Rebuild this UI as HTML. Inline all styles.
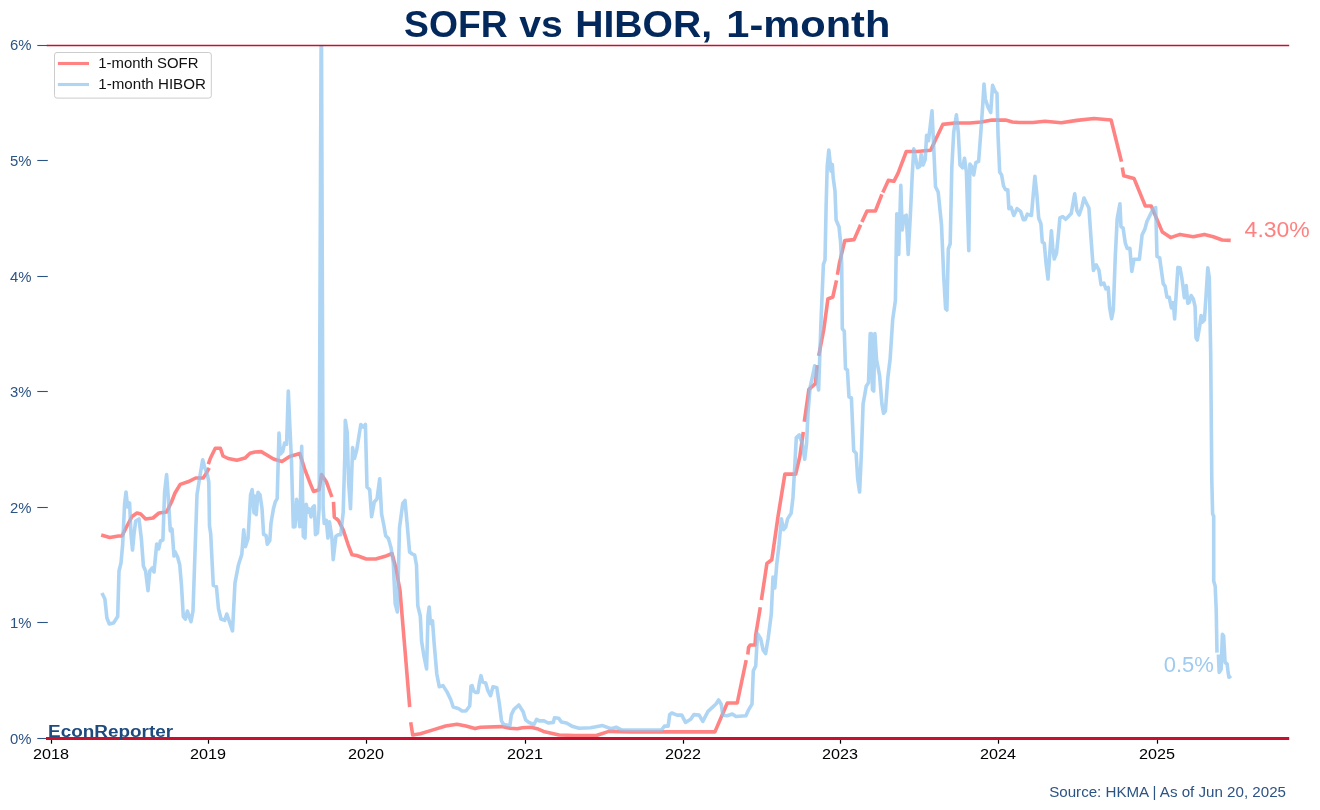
<!DOCTYPE html>
<html><head><meta charset="utf-8"><title>SOFR vs HIBOR, 1-month</title>
<style>
html,body{margin:0;padding:0;background:#fff;}
body{width:1320px;height:810px;overflow:hidden;font-family:"Liberation Sans", sans-serif;}
svg{display:block;will-change:transform;}
</style></head>
<body>
<svg width="1320" height="810" viewBox="0 0 1320 810">
<rect x="0" y="0" width="1320" height="810" fill="#fff"/>
<defs><clipPath id="ax"><rect x="46" y="45.8" width="1243.2" height="700"/></clipPath></defs>
<text x="404.1" y="36.9" font-family='"Liberation Sans", sans-serif' font-weight="bold" font-size="36.6" fill="#03295c" textLength="103.6" lengthAdjust="spacingAndGlyphs">SOFR</text>
<text x="519.3" y="36.9" font-family='"Liberation Sans", sans-serif' font-weight="bold" font-size="36.6" fill="#03295c" textLength="43.5" lengthAdjust="spacingAndGlyphs">vs</text>
<text x="575.2" y="36.9" font-family='"Liberation Sans", sans-serif' font-weight="bold" font-size="36.6" fill="#03295c" textLength="136.9" lengthAdjust="spacingAndGlyphs">HIBOR,</text>
<text x="726.3" y="36.9" font-family='"Liberation Sans", sans-serif' font-weight="bold" font-size="36.6" fill="#03295c" textLength="164.0" lengthAdjust="spacingAndGlyphs">1-month</text>
<line x1="37.3" y1="738.50" x2="47.8" y2="738.50" stroke="#2b5384" stroke-width="1.1"/>
<text x="31.6" y="743.90" text-anchor="end" font-family='"Liberation Sans", sans-serif' font-size="14" fill="#2b5384" textLength="21.5" lengthAdjust="spacingAndGlyphs">0%</text>
<line x1="37.3" y1="622.50" x2="47.8" y2="622.50" stroke="#2b5384" stroke-width="1.1"/>
<text x="31.6" y="628.30" text-anchor="end" font-family='"Liberation Sans", sans-serif' font-size="14" fill="#2b5384" textLength="21.5" lengthAdjust="spacingAndGlyphs">1%</text>
<line x1="37.3" y1="507.50" x2="47.8" y2="507.50" stroke="#2b5384" stroke-width="1.1"/>
<text x="31.6" y="512.70" text-anchor="end" font-family='"Liberation Sans", sans-serif' font-size="14" fill="#2b5384" textLength="21.5" lengthAdjust="spacingAndGlyphs">2%</text>
<line x1="37.3" y1="391.50" x2="47.8" y2="391.50" stroke="#2b5384" stroke-width="1.1"/>
<text x="31.6" y="397.10" text-anchor="end" font-family='"Liberation Sans", sans-serif' font-size="14" fill="#2b5384" textLength="21.5" lengthAdjust="spacingAndGlyphs">3%</text>
<line x1="37.3" y1="276.50" x2="47.8" y2="276.50" stroke="#2b5384" stroke-width="1.1"/>
<text x="31.6" y="281.50" text-anchor="end" font-family='"Liberation Sans", sans-serif' font-size="14" fill="#2b5384" textLength="21.5" lengthAdjust="spacingAndGlyphs">4%</text>
<line x1="37.3" y1="160.50" x2="47.8" y2="160.50" stroke="#2b5384" stroke-width="1.1"/>
<text x="31.6" y="165.90" text-anchor="end" font-family='"Liberation Sans", sans-serif' font-size="14" fill="#2b5384" textLength="21.5" lengthAdjust="spacingAndGlyphs">5%</text>
<line x1="37.3" y1="45.50" x2="47.8" y2="45.50" stroke="#2b5384" stroke-width="1.1"/>
<text x="31.6" y="50.30" text-anchor="end" font-family='"Liberation Sans", sans-serif' font-size="14" fill="#2b5384" textLength="21.5" lengthAdjust="spacingAndGlyphs">6%</text>
<line x1="51.50" y1="738.4" x2="51.50" y2="743.7" stroke="#000" stroke-width="1.2"/>
<text x="50.90" y="758.9" text-anchor="middle" font-family='"Liberation Sans", sans-serif' font-size="14" fill="#000" textLength="36" lengthAdjust="spacingAndGlyphs">2018</text>
<line x1="208.50" y1="738.4" x2="208.50" y2="743.7" stroke="#000" stroke-width="1.2"/>
<text x="207.90" y="758.9" text-anchor="middle" font-family='"Liberation Sans", sans-serif' font-size="14" fill="#000" textLength="36" lengthAdjust="spacingAndGlyphs">2019</text>
<line x1="366.50" y1="738.4" x2="366.50" y2="743.7" stroke="#000" stroke-width="1.2"/>
<text x="365.90" y="758.9" text-anchor="middle" font-family='"Liberation Sans", sans-serif' font-size="14" fill="#000" textLength="36" lengthAdjust="spacingAndGlyphs">2020</text>
<line x1="525.50" y1="738.4" x2="525.50" y2="743.7" stroke="#000" stroke-width="1.2"/>
<text x="524.90" y="758.9" text-anchor="middle" font-family='"Liberation Sans", sans-serif' font-size="14" fill="#000" textLength="36" lengthAdjust="spacingAndGlyphs">2021</text>
<line x1="683.50" y1="738.4" x2="683.50" y2="743.7" stroke="#000" stroke-width="1.2"/>
<text x="682.90" y="758.9" text-anchor="middle" font-family='"Liberation Sans", sans-serif' font-size="14" fill="#000" textLength="36" lengthAdjust="spacingAndGlyphs">2022</text>
<line x1="840.50" y1="738.4" x2="840.50" y2="743.7" stroke="#000" stroke-width="1.2"/>
<text x="839.90" y="758.9" text-anchor="middle" font-family='"Liberation Sans", sans-serif' font-size="14" fill="#000" textLength="36" lengthAdjust="spacingAndGlyphs">2023</text>
<line x1="998.50" y1="738.4" x2="998.50" y2="743.7" stroke="#000" stroke-width="1.2"/>
<text x="997.90" y="758.9" text-anchor="middle" font-family='"Liberation Sans", sans-serif' font-size="14" fill="#000" textLength="36" lengthAdjust="spacingAndGlyphs">2024</text>
<line x1="1157.50" y1="738.4" x2="1157.50" y2="743.7" stroke="#000" stroke-width="1.2"/>
<text x="1156.90" y="758.9" text-anchor="middle" font-family='"Liberation Sans", sans-serif' font-size="14" fill="#000" textLength="36" lengthAdjust="spacingAndGlyphs">2025</text>
<path d="M101.2,535 L109.8,537.5 L118.5,536 L122,536 L127,526 L132,516.5 L137,513 L140.7,514 L145.6,519 L153,518 L159,513 L166.6,512 L171.5,502 L175,493 L180.2,484.4 L188,481.8 L195.7,478 L203.2,478 L205.7,474.1 L209.2,467.8 M208.3,464.2 L210.5,458 L215.3,448.2 L220.4,448.2 L223,456 L228.2,458.5 L236.9,460.3 L245,458.1 L250,453.3 L255,452 L261.2,451.6 L267.3,455.3 L273.5,459 L282,461.5 L289.6,456.5 L299.8,453.6 L304.6,468.9 L310.2,483.3 L313.5,491.4 L319.1,489.8 L321.5,474.5 L326.3,481.7 L331.9,497 M333.5,501.8 L334.3,517 L338.3,520.3 L343.2,529.9 L348,544.3 L352,554.8 L356.7,555.5 L366.2,559 L375.7,559 L385.2,556.3 L392,553.5 L396,568.5 L400,590.6 L405.1,651.4 L409.7,707 M410.7,722.3 L412.7,735 L420.3,733.7 L433,729.9 L445.6,726 L457,724.3 L465.9,726 L475,728.6 L480.5,727.2 L501.5,726.6 L509.9,728.2 L517.2,728.7 L522.5,727.7 L530.9,727.2 L537.2,728.7 L543.5,731.4 L559.2,735 L575,735.5 L596.3,735.5 L608.9,731.4 L632,731.9 L663.5,731.9 L714.9,731.9 L727.3,703 L737.2,703 L746.2,660.1 M747.8,654.5 L748.6,647.3 L750.2,645 L755,645 L755.8,634.5 L760.3,607.2 M761.4,600 L766.9,563.5 L771.8,559.8 L778.1,516 L784.9,474.1 L795.7,474.1 L799.8,456.5 L803.3,431.9 M804.3,421.7 L808.9,389.3 L815.4,383.7 L817.2,365.2 M818.7,355.9 L823.7,330 L827.9,299 L832.8,297 L836.5,280.4 M837.4,274.8 L839.3,263.7 L844.8,240.6 L854.1,239.6 L860.6,224.8 M861.9,222 L867,211 L875.4,211 L881.9,194.3 M882.8,192.4 L888.3,180.4 L893.9,181.3 L898.1,173.2 L906.3,151.5 L917.1,151.5 L930.6,150.2 L942.8,124.4 L955,123 L970,123 L981.3,122 L992,120.1 L1005.6,120.1 L1012.4,122 L1019.2,122.5 L1032.8,122.5 L1045,121.2 L1061.3,122.7 L1076.9,120.4 L1094,118.5 L1111.1,120 L1121.5,161.6 M1122.3,167.5 L1123.7,175.7 L1134.1,178.6 L1145.3,206 L1151.2,206 L1162.4,232.1 L1170.6,237.6 L1180,234.4 L1193.3,236.7 L1204.4,234.4 L1213.3,236.7 L1222.2,240 L1230.7,240.4" fill="none" stroke="#ff5a5a" stroke-opacity="0.75" stroke-width="3.6" stroke-linejoin="round" stroke-linecap="butt" clip-path="url(#ax)"/>
<path d="M101.9,593 L104.9,599 L106.9,618 L109.3,624 L113.5,623 L117.7,616.5 L119,571 L121,563 L122.7,544 L124.6,504 L126,492 L127.6,507 L129.6,503 L131,534 L132.5,550 L134,534 L135.7,521 L139,519 L141.4,539 L143.4,566 L145.6,571 L148,590.6 L149.8,571 L152.3,568 L154,572 L156.7,544 L158.7,549 L160.4,541 L162.9,540 L164.6,492 L166.6,474.6 L168.6,502 L170.3,531 L172,529 L174,556 L175,551.8 L177.6,557 L179.7,564.7 L181.5,585.4 L183.3,616.5 L185.4,619 L187.4,611 L189.2,616.5 L191,621.7 L193,611 L195.2,546.6 L197,494.8 L200.1,475 L202.7,459.8 L204.4,466.3 L207.5,475 L208.8,482 L209.5,526 L210.7,533.6 L213.3,585.4 L216.4,586.7 L218.5,608.7 L221,619 L224.7,620.4 L226.8,614 L229.4,621.7 L232.5,630.8 L235,582.8 L238.5,564.7 L241.8,554.4 L243.7,529.7 L245.4,546.6 L248,538.8 L250.6,494.8 L252.2,489.6 L254,512.9 L255,496 L256.2,514.6 L258,492.3 L260,494.8 L262,508.4 L263.6,534.3 L266.1,535.6 L267.3,544.2 L269.8,540.5 L271,523.2 L273.5,508.4 L275.2,502.2 L277.2,498.5 L279,433 L280.4,454 L282.7,451.6 L284.6,443 L286.6,444.2 L288.3,391 L290,429.4 L291.5,461.5 L293.3,527 L295,526.7 L296.6,499.4 L298.2,512.2 L299.8,526.7 L301.7,446.4 L303.3,536.3 L305,538 L306.2,504.2 L307.8,512.2 L309.4,509 L311,517 L312.7,507.4 L314.3,505.8 L315.5,534.7 L317.5,533 L319.1,509 L321.1,40 L321.5,40 L323.1,507.4 L324.2,523.5 L326.3,520.3 L327.9,538 L329.5,521.9 L331.9,538 L333.2,559.6 L335.9,536.3 L338.3,534.7 L340.7,534.7 L343.2,512.2 L344.8,456 L345.3,420.4 L347.2,432.6 L348.6,481.5 L350.5,508.7 L352.6,447.6 L354.5,458.4 L356.7,450.3 L360.8,424.5 L363.5,427.2 L365.4,424.5 L367,487 L369.7,489.7 L371.6,516.8 L374.3,502 L377,499 L379.7,478.8 L381.6,514 L383.8,525 L385.7,535.8 L388.4,538.6 L391.1,548 L393.3,563 L395.2,603.8 L397.4,612 L399.5,527.7 L402.8,503.3 L405,500.5 L407,522.3 L409.6,552 L412.2,554 L414.7,555.2 L416.5,565.3 L417.8,605.8 L420.3,616 L421.6,641.3 L424,656.5 L426.6,669 L428,616 L429.2,607 L430.4,623.5 L432.5,621 L434.2,643.8 L436.8,674 L439.3,686.8 L443,685.6 L447,691.9 L450.7,699.5 L453.2,707 L458.3,708.4 L462,711 L465.9,711 L469.7,706 L471,686.2 L472.1,685.7 L473.7,691 L475.8,692.5 L477.9,692.5 L479.4,683 L481,675.7 L482.6,682 L485.7,683 L487.8,690.4 L490.5,695.7 L493,686.8 L496.8,687.8 L499.4,704 L501.5,720.9 L503.6,724.5 L509.9,725.6 L511.4,714.6 L514,709.3 L518.8,705 L523,711.4 L525.6,719.8 L528.8,722.4 L534,724.5 L536.6,719.3 L539.3,720.9 L544,720.9 L548.2,723 L553.4,722.4 L554.5,717.7 L558.7,718.2 L561.3,721.9 L566.5,723 L572.8,726.6 L579.1,728.2 L590.7,727.7 L602.6,725.6 L611,728.7 L616.2,727.2 L621.5,729.8 L632,730 L661.4,730 L664.5,726.1 L668.2,726.1 L669.7,714.6 L671.8,713 L677.1,715.1 L681.8,715.1 L685.5,722.4 L690.7,719.3 L693.9,714.6 L699.1,715.1 L702.8,721.4 L708,711.4 L716,704 L718.6,700 L721.2,704.2 L722.9,715.3 L727.3,715.8 L732.3,714 L736,716.5 L745.9,715.8 L748.3,710.4 L752,704.2 L753.3,670.9 L755.7,666 L757.5,633.8 L760.7,638.8 L763.1,649.9 L765.6,653.6 L768.1,638.8 L771.3,614 L773,577 L774.8,588 L776.7,564.7 L779,545 L781.4,518.9 L783.5,529.7 L785.7,527 L787.6,518.9 L791.1,513.4 L793,497.2 L795,462 L796.3,437.6 L799.3,434.9 L802,443 L804.7,459.2 L806.6,443 L808,413.2 L810.1,387.4 L813.4,372.5 L814.7,365.7 L816.6,378 L818.6,390 L820.9,324 L823.4,264.4 L825,260 L826.1,206.7 L827.2,166.7 L828.8,150 L830.1,162.2 L831,171.1 L832.3,164.4 L833.2,177.8 L835,191 L836.1,220 L839,226.7 L840.6,242.2 L841.7,264.4 L842.3,328.8 L844.3,331.1 L845.5,368.7 L847.4,369.9 L849,396.9 L851.4,398 L853.7,450.8 L856.1,453.2 L857.7,479 L859.6,491.9 L861.5,450.8 L863.1,403.9 L864.8,394.5 L866.2,386.3 L868.5,382.8 L870.2,333.5 L871.3,333.5 L872.5,389.8 L873.7,391 L874.9,333.5 L876.5,359.3 L879.6,375.7 L881.9,403.9 L883.5,413.3 L885.4,411 L887.8,378 L890.1,359.3 L892.7,319.5 L895.4,300.5 L896.8,213.8 L898.7,254.5 L900.8,185.4 L902.2,230 L904.1,216.5 L906.3,215.2 L908.2,254.5 L910.3,216.5 L912.2,175.9 L913.8,148.8 L915.7,158.3 L917.6,167.8 L919.8,166.4 L921.2,154.2 L923,165 L925.2,159.6 L926.6,135.2 L928.5,140.7 L930.1,127.1 L932,110.8 L933.4,140.7 L935.5,186.7 L938.2,192.1 L941.5,224.7 L943.7,276.1 L945.6,308.7 L946.9,310 L948.3,249.1 L950.2,243.6 L951.8,167.8 L953.7,132.5 L956.4,114.9 L958.3,132.5 L960,165 L962.6,167.8 L964.5,158.3 L966.4,172.1 L968.8,250.7 L969.9,164 L971.8,166.7 L973.7,174.9 L975.8,162.7 L978.6,161.3 L980.7,134.2 L982.6,107.1 L984,84 L985.3,99 L988,107.1 L990.7,112.5 L992.6,85.4 L994.8,90.8 L997,93.6 L998,134.2 L999.7,172.1 L1001.6,174.9 L1003.5,185.7 L1005.6,189.8 L1007.8,189.8 L1008.9,208.7 L1011.1,207.4 L1013.8,215.5 L1017,208.7 L1020.6,211.4 L1023.3,219.6 L1025.2,219.6 L1027.3,214.2 L1031.4,215.5 L1034.9,176.2 L1036.8,193.8 L1038.7,218.2 L1040.9,223.6 L1042.3,242 L1044.3,243.5 L1046.2,264.8 L1048,279 L1050,250.6 L1051.4,230.7 L1052.8,247.7 L1054.2,259 L1056.5,253.4 L1058.5,233.5 L1059.9,217.9 L1062.7,216.5 L1065.6,219.3 L1068.4,216.5 L1071.2,213.6 L1074.7,193.7 L1076.9,210.8 L1079.2,215 L1082,206.5 L1084,198 L1086,202.3 L1088.9,208 L1091.1,239.2 L1093.4,270.4 L1096.2,264.8 L1099,270.4 L1101,284.6 L1103.9,283.2 L1105.9,288.9 L1108.2,287.4 L1109.6,307.3 L1111.6,318.7 L1113.3,310.2 L1115.3,256.2 L1117.2,218.6 L1119.9,203.7 L1121,226.7 L1123.1,228 L1125.3,243 L1127.2,248.4 L1129.9,248.4 L1131.8,271.4 L1134,259.2 L1139.4,259.2 L1142.1,234.9 L1144.8,229.4 L1147,221.3 L1149.7,215.9 L1153,209.1 L1155.7,207.7 L1157,256.5 L1159.7,257.9 L1163.2,283.6 L1165.1,286.3 L1167,297.2 L1169.2,297.2 L1171.4,308 L1173.3,302.6 L1174.6,318.9 L1177.9,267.4 L1180,267.8 L1181.8,277.8 L1183.3,288.9 L1184.4,297.8 L1186.2,285.6 L1187.8,303.3 L1189.3,302.2 L1191.1,295.6 L1193.3,298.9 L1195.1,306.7 L1196,337.8 L1197.3,340 L1199.6,326.7 L1201.1,315.6 L1202.2,322.2 L1204.4,320 L1206.2,293.3 L1207.8,267.8 L1209.3,277.8 L1210.7,353.3 L1211.8,480 L1212.6,513.7 L1213.7,516.3 L1213.7,581 L1215.2,586.2 L1216.2,609.5 L1217,652.6 M1218.4,654.5 L1219.2,672.4 L1221.1,669.4 L1222.4,634.3 L1223.6,635.8 L1225.1,662.5 L1227.1,664 L1228.1,672.4 L1229,677.3 L1231,675.8" fill="none" stroke="#8cc3ee" stroke-opacity="0.7" stroke-width="3.6" stroke-linejoin="round" stroke-linecap="butt" clip-path="url(#ax)"/>
<line x1="46.8" y1="45.45" x2="1289.2" y2="45.45" stroke="#c8102e" stroke-width="1.4"/>
<line x1="46" y1="738.5" x2="1289.2" y2="738.5" stroke="#c8102e" stroke-width="3"/>
<text x="48.1" y="736.7" font-family='"Liberation Sans", sans-serif' font-weight="bold" font-size="16" fill="#1f4a7d" textLength="125" lengthAdjust="spacingAndGlyphs">EconReporter</text>
<text x="1244.6" y="236.5" font-family='"Liberation Sans", sans-serif' font-size="22" fill="#ff8080" textLength="65.2" lengthAdjust="spacingAndGlyphs">4.30%</text>
<text x="1163.8" y="671.9" font-family='"Liberation Sans", sans-serif' font-size="22" fill="#9ecbef" textLength="50" lengthAdjust="spacingAndGlyphs">0.5%</text>
<text x="1049.2" y="796.8" font-family='"Liberation Sans", sans-serif' font-size="13.8" fill="#2b5384" textLength="236.8" lengthAdjust="spacingAndGlyphs">Source: HKMA | As of Jun 20, 2025</text>
<rect x="54.5" y="52.5" width="156.8" height="45.6" rx="2.5" ry="2.5" fill="#fff" fill-opacity="0.8" stroke="#cccccc" stroke-width="1"/>
<line x1="57.9" y1="63.5" x2="89" y2="63.5" stroke="#ff5a5a" stroke-opacity="0.75" stroke-width="3.1"/>
<line x1="57.9" y1="84.5" x2="89" y2="84.5" stroke="#8cc3ee" stroke-opacity="0.7" stroke-width="3.1"/>
<text x="98.3" y="67.9" font-family='"Liberation Sans", sans-serif' font-size="13.8" fill="#111" textLength="100.2" lengthAdjust="spacingAndGlyphs">1-month SOFR</text>
<text x="98.3" y="88.9" font-family='"Liberation Sans", sans-serif' font-size="13.8" fill="#111" textLength="107.6" lengthAdjust="spacingAndGlyphs">1-month HIBOR</text>
</svg>
</body></html>
